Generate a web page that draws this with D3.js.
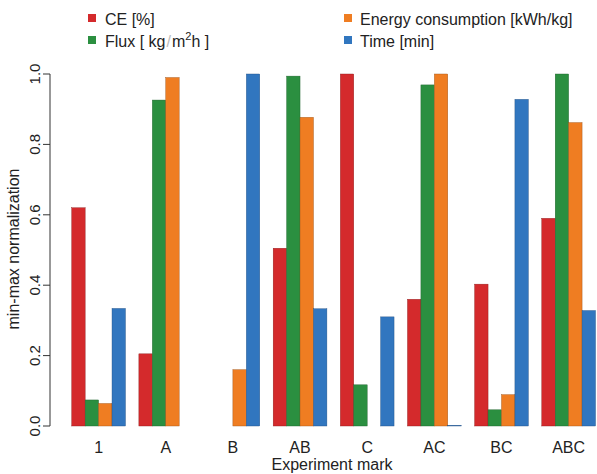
<!DOCTYPE html>
<html><head><meta charset="utf-8">
<script src="https://cdn.jsdelivr.net/npm/d3@7/dist/d3.min.js"></script>
<style>body{margin:0;background:#fff}svg{display:block}text{font-family:"Liberation Sans",Arial,sans-serif}</style>
</head><body><svg id="c" width="597" height="474"></svg>
<script>
const categories = ["1","A","B","AB","C","AC","BC","ABC"];
const seriesNames = ["CE","Flux","Energy","Time"];
const CE     = [0.62, 0.205, 0.0, 0.505, 1.0, 0.36, 0.403, 0.59];
const Flux   = [0.074, 0.926, 0.0, 0.994, 0.117, 0.969, 0.046, 1.0];
const Energy = [0.064, 0.99, 0.16, 0.877, 0.0, 1.0, 0.089, 0.862];
const Time   = [0.334, 0.0, 1.0, 0.333, 0.31, 0.002, 0.928, 0.328];
const yTicks = [0, 0.2, 0.4, 0.6, 0.8, 1.0];
const colors = ["#d42a2c","#2b8f40","#ef7d22","#3176bf"];
const strokes = ["#8a1a1a","#1d5e2a","#9a5015","#1f4d80"];

const series = [CE, Flux, Energy, Time];
const svg = d3.select("#c");
const y = d3.scaleLinear().domain([0,1]).range([426,74]);
// R barplot style: one space unit before each group of 4 bars
const x0 = d3.scaleBand().domain(categories).range([58.3,595.5]).paddingInner(0).paddingOuter(0);
const unit = x0.bandwidth()/5;
const gx = d => x0(d) + unit;
const x1 = d3.scaleBand().domain(seriesNames).range([0, 4*unit]);

const g = svg.append("g");
categories.forEach((c,i)=>{
  series.forEach((s,j)=>{
    g.append("rect")
      .attr("x", gx(c)+x1(seriesNames[j]))
      .attr("y", y(s[i]))
      .attr("width", x1.bandwidth())
      .attr("height", Math.max(0, y(0)-y(s[i])))
      .attr("fill", colors[j])
      .attr("stroke", s[i]===0 ? "#bbb" : strokes[j])
      .attr("stroke-width", 0.4);
  });
  svg.append("text").attr("x", gx(c)+2*unit).attr("y", 453)
    .attr("text-anchor","middle").attr("font-size",16).attr("fill","#222").text(c);
});

// y axis (R style)
const ax = svg.append("g").attr("transform","translate(50,0)");
ax.append("line").attr("x1",0).attr("x2",0).attr("y1",y(0)).attr("y2",y(1)).attr("stroke","#333");
yTicks.forEach(t=>{
  ax.append("line").attr("x1",-7).attr("x2",0).attr("y1",y(t)).attr("y2",y(t)).attr("stroke","#333");
  ax.append("text").attr("transform",`translate(-10,${y(t)}) rotate(-90)`)
    .attr("text-anchor","middle").attr("font-size",15).attr("fill","#222").text(t.toFixed(1));
});
svg.append("text").attr("transform","translate(19,249) rotate(-90)")
  .attr("text-anchor","middle").attr("font-size",16).attr("fill","#222").text("min-max normalization");
svg.append("text").attr("x",332).attr("y",470).attr("text-anchor","middle")
  .attr("font-size",16).attr("fill","#222").text("Experiment mark");

// legend
const leg = [
  {x:88,y:18,c:0},{x:88,y:40,c:1},{x:344,y:18,c:2},{x:344,y:40,c:3}
];
leg.forEach(l=>{
  svg.append("rect").attr("x",l.x).attr("y",l.y-4).attr("width",8).attr("height",8).attr("fill",colors[l.c]);
});
svg.append("text").attr("x",105).attr("y",25).attr("font-size",16).attr("fill","#222").text("CE [%]");
const t1 = svg.append("text").attr("x",105).attr("y",47).attr("font-size",16).attr("fill","#222");
t1.append("tspan").text("Flux [ kg");
t1.append("tspan").attr("fill","#bbb").attr("dx",1).text("/");
t1.append("tspan").attr("dx",1).text("m");
t1.append("tspan").attr("font-size",11).attr("dy",-7).text("2");
t1.append("tspan").attr("dy",7).text("h ]");
svg.append("text").attr("x",360).attr("y",25).attr("font-size",16).attr("fill","#222").text("Energy consumption [kWh/kg]");
svg.append("text").attr("x",360).attr("y",47).attr("font-size",16).attr("fill","#222").text("Time [min]");
</script></body></html>
